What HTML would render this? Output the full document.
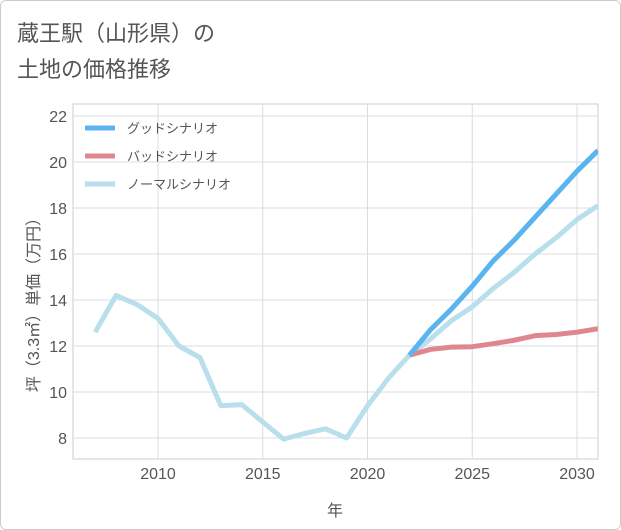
<!DOCTYPE html>
<html><head><meta charset="utf-8"><style>
body{margin:0;background:#fff;font-family:"Liberation Sans","Noto Sans CJK JP",sans-serif;}
#wrap{position:relative;width:619px;height:528px;border:1px solid #ccc;border-radius:6px;overflow:hidden;}
</style></head><body>
<div id="wrap">
<svg id="chart" width="619" height="528"></svg>
</div>
<script>
const years=[2007,2008,2009,2010,2011,2012,2013,2014,2015,2016,2017,2018,2019,2020,2021,2022,2023,2024,2025,2026,2027,2028,2029,2030,2031];
const normal=[12.6,14.2,13.8,13.2,12.0,11.5,9.4,9.45,8.7,7.95,8.2,8.4,8.0,9.4,10.6,11.6,12.3,13.1,13.7,14.5,15.2,16.0,16.7,17.5,18.1];
const goodYears=[2022,2023,2024,2025,2026,2027,2028,2029,2030,2031];
const good=[11.6,12.7,13.6,14.6,15.7,16.6,17.6,18.6,19.6,20.5];
const bad=[11.6,11.85,11.95,11.97,12.1,12.25,12.45,12.5,12.6,12.75];
const xTicks=[2010,2015,2020,2025,2030];
const yTicks=[8,10,12,14,16,18,20,22];
const NS='http://www.w3.org/2000/svg';
const svg=document.getElementById('chart');
const L=72,R=597,T=103,B=458;
const x=v=>157+(v-2010)*20.95;
const y=v=>437-(v-8)*23;
function el(tag,attrs,parent){const e=document.createElementNS(NS,tag);for(const k in attrs)e.setAttribute(k,attrs[k]);(parent||svg).appendChild(e);return e;}
function txt(s,attrs){const t=el('text',attrs);t.textContent=s;return t;}
const title=txt('蔵王駅（山形県）の',{x:16,y:40,'font-size':22,fill:'#555'});


const title2=txt('土地の価格推移',{x:16,y:76,'font-size':22,fill:'#555'});


const plot=el('rect',{x:L,y:T,width:R-L,height:B-T,fill:'#fff',stroke:'#ccc'});


yTicks.forEach(v=>{
 const g=el('line',{x1:L,x2:R,y1:y(v),y2:y(v),stroke:'#d8dce3'});
 
 
 const t=txt(String(v),{x:L-6,y:y(v)+6,'font-size':16,fill:'#555','text-anchor':'end'});
 
 
});
xTicks.forEach(v=>{
 const g=el('line',{x1:x(v),x2:x(v),y1:T,y2:B,stroke:'#d8dce3'});
 
 
 const t=txt(String(v),{x:x(v),y:B+20,'font-size':16,fill:'#555','text-anchor':'middle'});
 
 
});
const xt=txt('年',{x:334,y:515,'font-size':16,fill:'#555','text-anchor':'middle'});


const yt=txt('坪（3.3㎡）単価（万円）',{x:0,y:0,'font-size':16,fill:'#555','text-anchor':'middle',transform:'translate(38,300) rotate(-90)'});


const clip=el('clipPath',{id:'c'});el('rect',{x:L,y:T,width:R-L,height:B-T},clip);
function line(xs,vs,color,name){
 const p=el('polyline',{points:xs.map((v,i)=>x(v)+','+y(vs[i])).join(' '),fill:'none',stroke:color,'stroke-width':5,'stroke-linejoin':'round','clip-path':'url(#c)'});
 
 
}
line(years,normal,'#b9dfec','normal-scenario-line');
line(goodYears,bad,'#e0868f','bad-scenario-line');
line(goodYears,good,'#5ab4f0','good-scenario-line');
[['グッドシナリオ','#5ab4f0'],['バッドシナリオ','#e0868f'],['ノーマルシナリオ','#b9dfec']].forEach((d,i)=>{
 const yy=127+i*28;
 const s=el('line',{x1:84,x2:114,y1:yy,y2:yy,stroke:d[1],'stroke-width':5});
 
 
 const t=txt(d[0],{x:126,y:yy+5,'font-size':13,fill:'#555'});
 
 
});
</script>
</body></html>
